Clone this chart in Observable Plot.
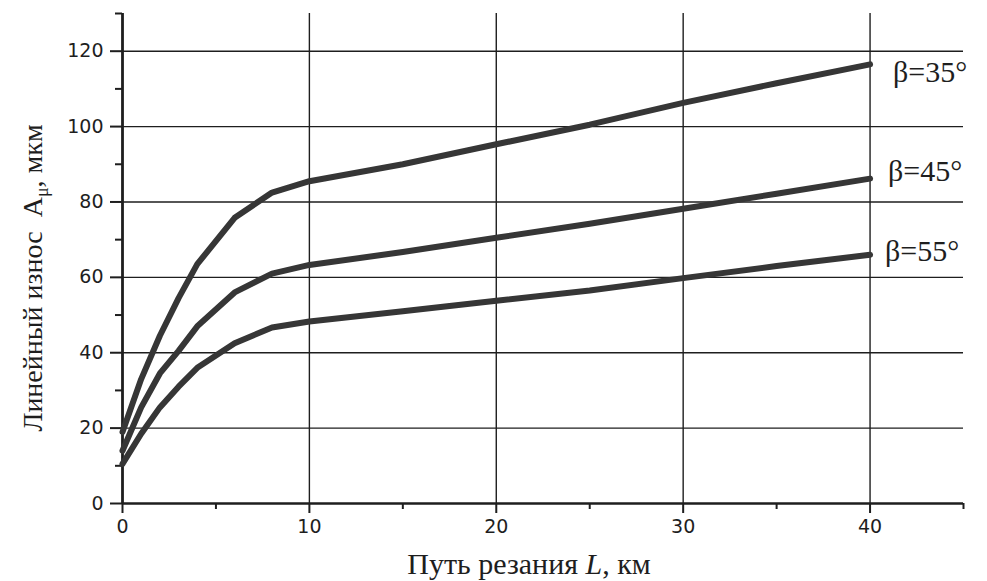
<!DOCTYPE html>
<html>
<head>
<meta charset="utf-8">
<script src="https://cdn.jsdelivr.net/npm/d3@7"></script>
<script src="https://cdn.jsdelivr.net/npm/@observablehq/plot@0.6"></script>
<style>
  html, body { margin: 0; padding: 0; background: #fff; }
  #chart { width: 987px; height: 581px; }
</style>
</head>
<body>
<div id="chart"></div>
<script>
// ---- data ----
const L = [0, 1, 2, 3, 4, 6, 8, 10, 15, 20, 25, 30, 35, 40];
const beta35 = [19, 33, 44.5, 54.5, 63.5, 75.8, 82.5, 85.5, 90, 95.3, 100.5, 106.3, 111.5, 116.5];
const beta45 = [14, 25.5, 34.5, 40.5, 47, 56, 61, 63.3, 66.7, 70.5, 74.2, 78.2, 82.2, 86.2];
const beta55 = [10.5, 18.5, 25.5, 31, 36, 42.5, 46.7, 48.3, 51, 53.8, 56.5, 59.8, 63, 66];
const seriesNames = ["β=35°", "β=45°", "β=55°"];
const xTicks = [0, 10, 20, 30, 40];
const xMinorTicks = [5, 15, 25, 35, 45];
const yTicks = [0, 20, 40, 60, 80, 100, 120];
const yMinorTicks = [10, 30, 50, 70, 90, 110, 130];
const xGrid = [10, 20, 30, 40];
const yGrid = [20, 40, 60, 80, 100, 120];
const xTitle = ["Путь резания ", "L", ", км"];
const yTitle = ["Линейный износ  A", "μ", ", мкм"];

// ---- build table ----
const allSeries = [beta35, beta45, beta55];
const rows = [];
allSeries.forEach((vals, i) => vals.forEach((v, j) => rows.push({L: L[j], A: v, s: seriesNames[i]})));
const ends = allSeries.map((vals, i) => ({L: L[L.length - 1], A: vals[vals.length - 1], s: seriesNames[i]}));
const labelOffsets = [{dx: 23, dy: 8}, {dx: 18, dy: -7}, {dx: 15, dy: -3}];

const ink = "#1e1e1e";
const tickFont = "'DejaVu Sans', Verdana, sans-serif";
const serif = "'Liberation Serif', 'Times New Roman', serif";

const plot = Plot.plot({
  width: 987,
  height: 581,
  marginLeft: 122,
  marginRight: 24,
  marginTop: 13,
  marginBottom: 78,
  style: {background: "#fff", color: ink},
  x: {domain: [0, 45], label: null},
  y: {domain: [0, 130], label: null},
  marks: [
    Plot.ruleY(yGrid, {x1: 0, x2: 45, stroke: ink, strokeWidth: 1.4}),
    Plot.ruleX(xGrid, {y1: 0, y2: 130, stroke: ink, strokeWidth: 1.4}),
    Plot.axisY({ticks: yTicks, tickSize: 12, tickPadding: 7, fontSize: 19, fontFamily: tickFont, stroke: ink, strokeWidth: 2, fill: ink, label: null}),
    Plot.axisY({ticks: yMinorTicks, tickSize: 7, tickFormat: () => "", stroke: ink, strokeWidth: 2, label: null}),
    Plot.axisX({ticks: xTicks, tickSize: 10, tickPadding: 6, fontSize: 19, fontFamily: tickFont, stroke: ink, strokeWidth: 2, fill: ink, label: null}),
    Plot.axisX({ticks: xMinorTicks, tickSize: 6, tickFormat: () => "", stroke: ink, strokeWidth: 2, label: null}),
    Plot.ruleX([0], {y1: 0, y2: 130, stroke: ink, strokeWidth: 2.8}),
    Plot.ruleY([0], {x1: 0, x2: 45, stroke: ink, strokeWidth: 2.6}),
    Plot.line(rows, {x: "L", y: "A", z: "s", stroke: "#363636", strokeWidth: 6, strokeLinejoin: "round", strokeLinecap: "round"}),
    ...ends.map((d, i) => Plot.text([d], {
      x: "L", y: "A", text: "s", textAnchor: "start", lineAnchor: "middle",
      dx: labelOffsets[i].dx, dy: labelOffsets[i].dy,
      fontSize: 30, fontFamily: serif, fill: ink
    }))
  ]
});

const svg = d3.select(plot);
// x axis title
const xt = svg.append("text")
  .attr("x", 529).attr("y", 574)
  .attr("text-anchor", "middle")
  .attr("font-family", serif).attr("font-size", 30).attr("fill", ink);
xt.append("tspan").text(xTitle[0]);
xt.append("tspan").attr("font-style", "italic").text(xTitle[1]);
xt.append("tspan").text(xTitle[2]);
// y axis title
const yt = svg.append("text")
  .attr("transform", "translate(42,278) rotate(-90)")
  .attr("text-anchor", "middle")
  .attr("font-family", serif).attr("font-size", 28).attr("fill", ink);
yt.append("tspan").text(yTitle[0]);
yt.append("tspan").attr("font-size", 18).attr("dy", 6).text(yTitle[1]);
yt.append("tspan").attr("dy", -6).text(yTitle[2]);

document.getElementById("chart").appendChild(plot);
</script>
</body>
</html>
